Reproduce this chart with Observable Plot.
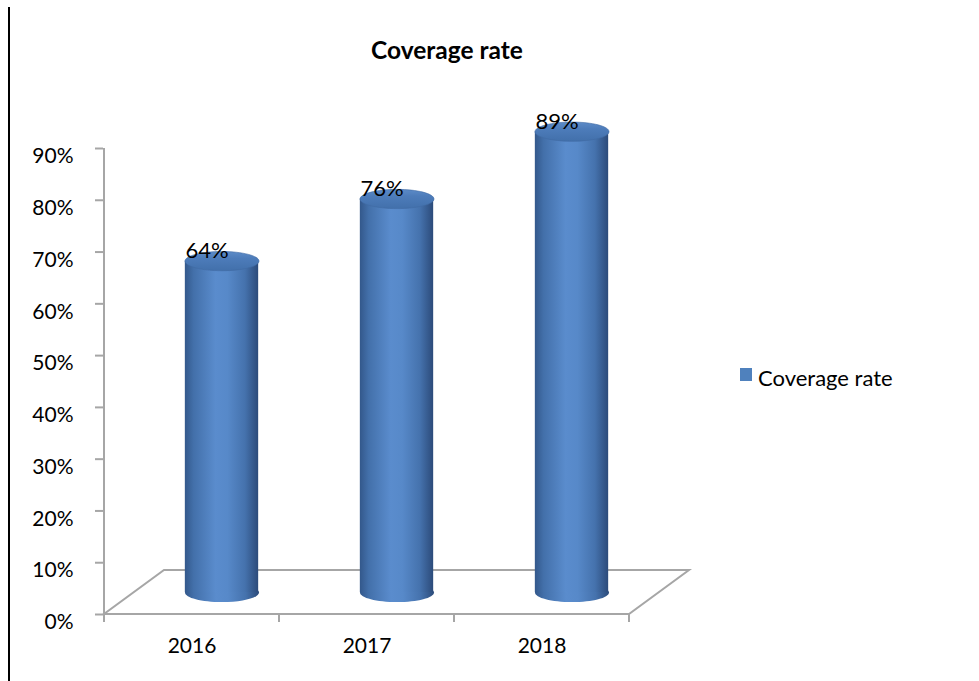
<!DOCTYPE html>
<html>
<head>
<meta charset="utf-8">
<script src="https://cdn.jsdelivr.net/npm/d3@7"></script>
<script src="https://cdn.jsdelivr.net/npm/@observablehq/plot@0.6"></script>
<style>
html,body{margin:0;padding:0;background:#fff;}
#wrap{position:relative;width:979px;height:681px;overflow:hidden;font-family:Lato,"Open Sans",sans-serif;color:#000;}
#chart{position:absolute;left:0;top:0;}
#border{position:absolute;left:8px;top:7px;width:2px;height:680px;background:#000;}
#title{position:absolute;left:0;width:894px;top:35px;text-align:center;font-weight:bold;font-size:24.5px;line-height:1.2;}
#swatch{position:absolute;left:740px;top:368px;width:12px;height:13px;background:#4f81bd;}
#legtext{position:absolute;left:758px;top:365px;font-size:22px;line-height:1.2;white-space:nowrap;}
</style>
</head>
<body>
<div id="wrap">
  <div id="chart"></div>
  <div id="border"></div>
  <div id="title">Coverage rate</div>
  <div id="swatch"></div>
  <div id="legtext">Coverage rate</div>
</div>
<script>
// ---- data ----
const years = ["2016", "2017", "2018"];
const coverage = [0.64, 0.76, 0.89];
const yTicks = [0, 0.1, 0.2, 0.3, 0.4, 0.5, 0.6, 0.7, 0.8, 0.9];
const seriesName = "Coverage rate";

const data = years.map((year, i) => ({year, value: coverage[i]}));
const pct = d3.format(".0%");

// ---- layout ----
const W = 979, H = 681;
const ML = 103, MR = 349, MT = 148, MB = 67;
const PW = W - ML - MR;
const DEPTH_X = 60, DEPTH_Y = -44;       // back wall offset
const DX = DEPTH_X / 2, DY = DEPTH_Y / 2; // mid-plane offset for cylinders
const R = 37;                            // cylinder radius (px)

// ellipse symbol for cylinder caps
const ellipse = {
  draw(ctx, size) {
    const rx = Math.sqrt(size / Math.PI), ry = rx * 0.26, k = 0.5523;
    ctx.moveTo(rx, 0);
    ctx.bezierCurveTo(rx, k * ry, k * rx, ry, 0, ry);
    ctx.bezierCurveTo(-k * rx, ry, -rx, k * ry, -rx, 0);
    ctx.bezierCurveTo(-rx, -k * ry, -k * rx, -ry, 0, -ry);
    ctx.bezierCurveTo(k * rx, -ry, rx, -k * ry, rx, 0);
    ctx.closePath();
  }
};

const defs = () => {
  const d = d3.create("svg:defs");
  const body = d.append("linearGradient").attr("id", "cylBody")
    .attr("x1", 0).attr("x2", 1).attr("y1", 0).attr("y2", 0);
  [[0, "#33588b"], [0.12, "#4370aa"], [0.42, "#5a8ccd"], [0.58, "#5789c9"], [0.82, "#4572ad"], [1, "#2c4b7a"]]
    .forEach(([o, c]) => body.append("stop").attr("offset", o).attr("stop-color", c));
  const top = d.append("linearGradient").attr("id", "cylTop")
    .attr("x1", 0).attr("x2", 0).attr("y1", 0).attr("y2", 1);
  [[0, "#5c8bc8"], [0.35, "#4d7cba"], [1, "#4270ab"]]
    .forEach(([o, c]) => top.append("stop").attr("offset", o).attr("stop-color", c));
  return d.node();
};

// floor parallelogram, value axis line and category ticks, drawn from the scales
const floor = (index, scales) => {
  const x = scales.x, y = scales.y;
  const bw = x.bandwidth ? x.bandwidth() : (x(years[1]) - x(years[0]));
  const x0 = x(years[0]), x1 = x(years[years.length - 1]) + bw;
  const y0 = y(0), yTop = y(yTicks[yTicks.length - 1]);
  const g = d3.create("svg:g").attr("fill", "none").attr("stroke", "#a6a6a6").attr("stroke-width", 2);
  g.append("path").attr("d",
    `M${x0},${y0}L${x1},${y0}L${x1 + DEPTH_X},${y0 + DEPTH_Y}L${x0 + DEPTH_X},${y0 + DEPTH_Y}Z`);
  g.append("path").attr("d", `M${x0},${yTop}V${y0}`);
  const bounds = years.map(v => x(v)).concat([x1]);
  bounds.forEach(b => g.append("path").attr("d", `M${b},${y0}V${y0 + 8}`));
  return g.node();
};

const plot = Plot.plot({
  width: W, height: H,
  marginLeft: ML, marginRight: MR, marginTop: MT, marginBottom: MB,
  style: {fontFamily: "Lato, 'Open Sans', sans-serif", fontSize: "21px", background: "transparent", overflow: "visible"},
  x: {type: "band", domain: years, padding: 0, axis: null},
  y: {domain: [0, 0.9], axis: null},
  marks: [
    defs,
    floor,
    Plot.ruleY(yTicks, {y: d => d, stroke: "#a6a6a6", strokeWidth: 2, insetLeft: -8, insetRight: PW}),
    Plot.text(yTicks, {y: d => d, text: d => pct(d), frameAnchor: "left", textAnchor: "end", dx: -30, dy: 8, fill: "#000"}),
    Plot.text(years, {x: d => d, text: d => d, frameAnchor: "bottom", dy: 38, fill: "#000"}),
    // cylinder bottom caps
    Plot.dot(data, {x: "year", y: () => 0, r: R, symbol: ellipse, fill: "url(#cylBody)", stroke: "none", dx: DX, dy: DY}),
    // cylinder bodies
    Plot.barY(data, {x: "year", y: "value", fill: "url(#cylBody)",
      insetLeft: PW / years.length / 2 + DX - R, insetRight: PW / years.length / 2 - DX - R, dy: DY}),
    // cylinder top caps
    Plot.dot(data, {x: "year", y: "value", r: R, symbol: ellipse, fill: "url(#cylTop)", stroke: "#3f6aa3", strokeWidth: 0.6, dx: DX, dy: DY}),
    // value labels
    Plot.text(data, {x: "year", y: "value", text: d => pct(d.value), dx: 15, dy: -32, fontSize: 22, fill: "#000"})
  ]
});
document.getElementById("chart").appendChild(plot);
document.getElementById("legtext").textContent = seriesName;
</script>
</body>
</html>
